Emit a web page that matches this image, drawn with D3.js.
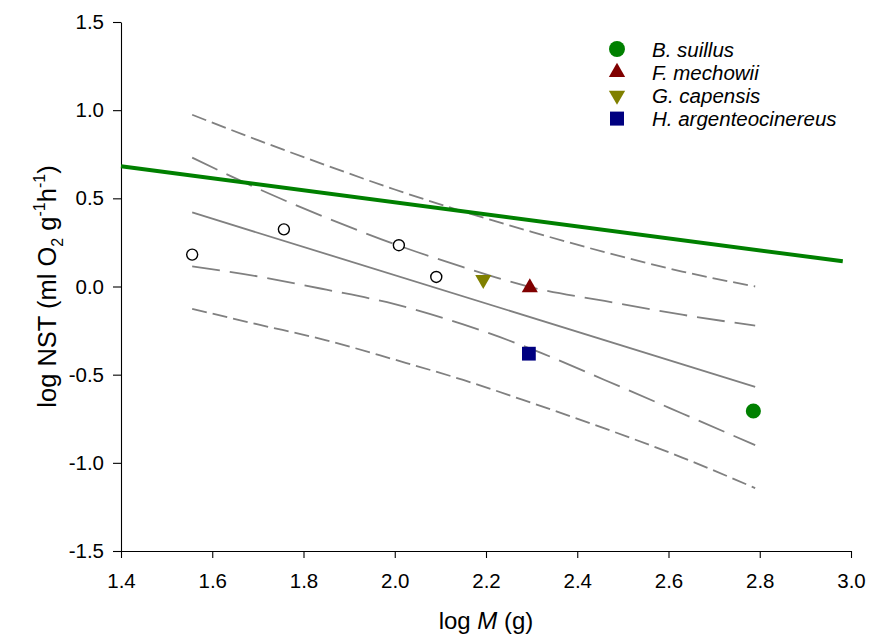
<!DOCTYPE html>
<html><head><meta charset="utf-8">
<script src="https://cdn.jsdelivr.net/npm/d3@7"></script>
<style>body{margin:0;background:#fff}</style>
</head><body><svg id="c" width="869" height="637"></svg>
<script>
// ---- data ----
const xTicks = [1.4, 1.6, 1.8, 2.0, 2.2, 2.4, 2.6, 2.8, 3.0];
const yTicks = [-1.5, -1.0, -0.5, 0.0, 0.5, 1.0, 1.5];
const openX = [1.556, 1.757, 2.009, 2.091];
const openY = [0.181, 0.324, 0.234, 0.054];
const species = ["B. suillus", "F. mechowii", "G. capensis", "H. argenteocinereus"];
const speciesX = [2.786, 2.296, 2.194, 2.294];
const speciesY = [-0.706, -0.006, 0.039, -0.381];
const fitX = [1.556, 2.79];
const fitY = [0.42, -0.569];
const bandX   = [1.556, 1.70, 1.85, 2.00, 2.15, 2.30, 2.46, 2.63, 2.79];
const ciUpper = [0.731, 0.555, 0.39, 0.24, 0.11, -0.005, -0.082, -0.16, -0.222];
const ciLower = [0.114, 0.057, -0.018, -0.10, -0.215, -0.355, -0.53, -0.72, -0.90];
const piUpper = [0.974, 0.83, 0.687, 0.55, 0.425, 0.31, 0.195, 0.085, 0.0];
const piLower = [-0.127, -0.215, -0.305, -0.415, -0.53, -0.66, -0.805, -0.97, -1.143];
const refX = [1.4, 2.982];
const refY = [0.682, 0.143];

// ---- styles ----
const speciesColor = ["#008000", "#800000", "#808000", "#000080"];
const speciesShape = ["circle", "up", "down", "square"];
const FONT = "'Liberation Sans', Arial, sans-serif";

const svg = d3.select("#c");
const L = 121, R = 851, T = 22, B = 551;
const x = d3.scaleLinear().domain([1.4, 3.0]).range([L, R]);
const y = d3.scaleLinear().domain([-1.5, 1.5]).range([B, T]);

// axes
const xa = svg.append("g").attr("transform", `translate(0,${B})`)
  .call(d3.axisBottom(x).tickValues(xTicks).tickFormat(d3.format(".1f")).tickSize(7).tickSizeOuter(0).tickPadding(15));
const ya = svg.append("g").attr("transform", `translate(${L},0)`)
  .call(d3.axisLeft(y).tickValues(yTicks).tickFormat(d3.format(".1f")).tickSize(8).tickSizeOuter(0).tickPadding(9));
[xa, ya].forEach(g => {
  g.selectAll("path,line").attr("stroke", "#000").attr("stroke-width", 1.1);
  g.selectAll("text").attr("fill", "#000").style("font-family", FONT).style("font-size", "20.5px");
});
ya.selectAll("text").text(d => d3.format(".1f")(d).replace("−", "-"));

const line = d3.line().x(d => x(d[0])).y(d => y(d[1]));
const curve = d3.line().x(d => x(d[0])).y(d => y(d[1])).curve(d3.curveMonotoneX);
const zip = (a, b) => a.map((v, i) => [v, b[i]]);

// prediction interval (short dash)
[piUpper, piLower].forEach(arr => {
  svg.append("path").attr("d", curve(zip(bandX, arr)))
    .attr("fill", "none").attr("stroke", "#808080").attr("stroke-width", 1.8)
    .attr("stroke-dasharray", "15,6");
});
// confidence interval (long dash)
[ciUpper, ciLower].forEach(arr => {
  svg.append("path").attr("d", curve(zip(bandX, arr)))
    .attr("fill", "none").attr("stroke", "#808080").attr("stroke-width", 1.8)
    .attr("stroke-dasharray", "28,10");
});
// regression line
svg.append("path").attr("d", line(zip(fitX, fitY)))
  .attr("fill", "none").attr("stroke", "#808080").attr("stroke-width", 1.8);
// reference green line
svg.append("path").attr("d", line(zip(refX, refY)))
  .attr("fill", "none").attr("stroke", "#008000").attr("stroke-width", 4);

// open circles
svg.selectAll("circle.open").data(zip(openX, openY)).enter().append("circle")
  .attr("cx", d => x(d[0])).attr("cy", d => y(d[1])).attr("r", 5.5)
  .attr("fill", "#fff").attr("stroke", "#000").attr("stroke-width", 1.4);

function sym(shape, big) {
  if (shape === "circle") return d3.symbol().type(d3.symbolCircle).size(big ? 200 : 180)();
  if (shape === "square") return d3.symbol().type(d3.symbolSquare).size(big ? 196 : 190)();
  return d3.symbol().type(d3.symbolTriangle).size(big ? 115 : 112)();
}
species.forEach((s, i) => {
  const sh = speciesShape[i];
  svg.append("path").attr("d", sym(sh, false))
    .attr("transform", `translate(${x(speciesX[i])},${y(speciesY[i])})${sh === "down" ? " rotate(180)" : ""}`)
    .attr("fill", speciesColor[i]);
});

// legend
const lg = svg.append("g");
species.forEach((s, i) => {
  const cy = 49 + i * 23.2;
  const sh = speciesShape[i];
  lg.append("path").attr("d", sym(sh, true))
    .attr("transform", `translate(617,${cy})${sh === "down" ? " rotate(180)" : ""}`)
    .attr("fill", speciesColor[i]);
  lg.append("text").attr("x", 652).attr("y", cy + 7.5).text(s)
    .style("font-family", FONT).style("font-size", "20.5px").style("font-style", "italic");
});

// axis titles
const xt = svg.append("text").attr("x", (L + R) / 2).attr("y", 629).attr("text-anchor", "middle")
  .style("font-family", FONT).style("font-size", "24px");
xt.append("tspan").text("log ");
xt.append("tspan").text("M").style("font-style", "italic");
xt.append("tspan").text(" (g)");

const yt = svg.append("text").attr("transform", `translate(56,${(T + B) / 2}) rotate(-90)`)
  .attr("text-anchor", "middle").style("font-family", FONT).style("font-size", "25.5px");
yt.append("tspan").text("log NST (ml O");
yt.append("tspan").text("2").attr("dy", 7).style("font-size", "16px");
yt.append("tspan").text(" g").attr("dy", -7);
yt.append("tspan").text("-1").attr("dy", -11).style("font-size", "16px");
yt.append("tspan").text("h").attr("dy", 11);
yt.append("tspan").text("-1").attr("dy", -11).style("font-size", "16px");
yt.append("tspan").text(")").attr("dy", 11);
</script></body></html>
